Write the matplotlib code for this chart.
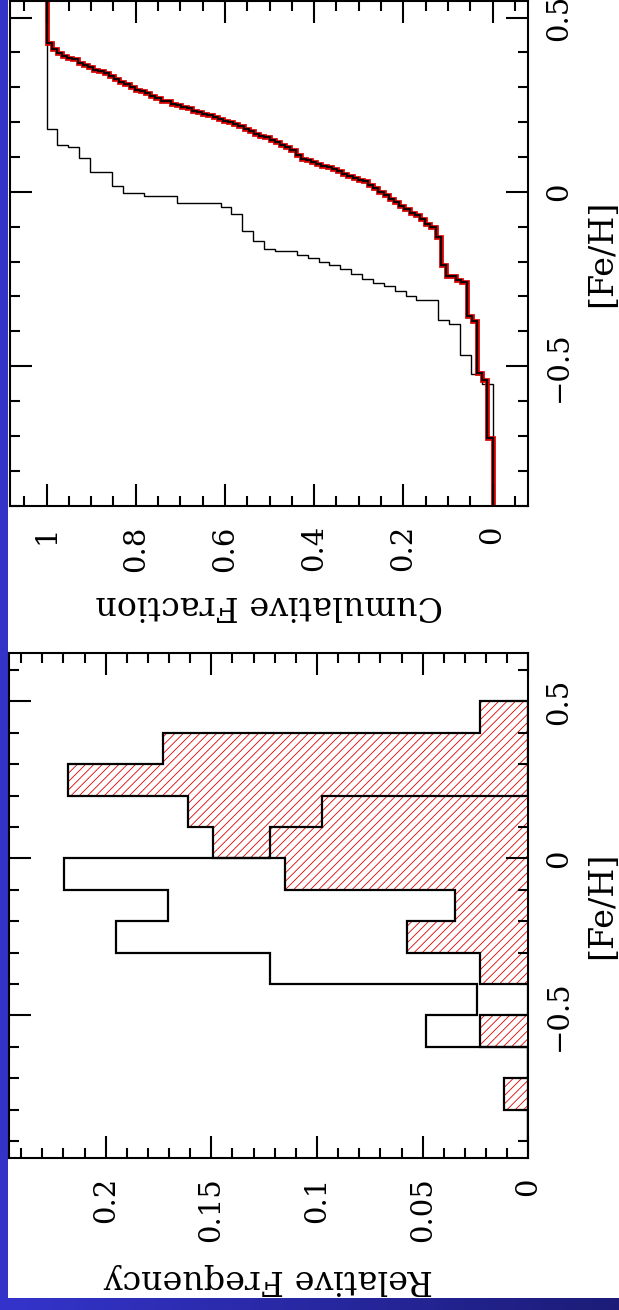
import numpy as np
import matplotlib.pyplot as plt
from matplotlib.colors import LinearSegmentedColormap
from matplotlib.patches import Rectangle
from matplotlib.ticker import MultipleLocator, FuncFormatter

plt.rcParams['font.family'] = ['DejaVu Serif']
plt.rcParams['hatch.linewidth'] = 0.6

# [Fe/H] bins, 0.1 dex wide
bin_edges = [-0.9, -0.8, -0.7, -0.6, -0.5, -0.4, -0.3, -0.2, -0.1, 0.0, 0.1, 0.2, 0.3, 0.4, 0.5]

# relative frequencies per bin (hatched sample and open sample)
freq_hatched = [0.0, 0.0115, 0.0, 0.0229, 0.0, 0.0229, 0.0573, 0.0347,
                0.115, 0.149, 0.161, 0.218, 0.173, 0.0229]
freq_open = [0.0, 0.0, 0.0, 0.0484, 0.0244, 0.1222, 0.1951, 0.1707,
             0.2195, 0.1222, 0.0978, 0.0, 0.0, 0.0]

# individual [Fe/H] values for the cumulative curves
feh_red = [0.427, 0.41,
           0.398, 0.39, 0.385, 0.38, 0.371, 0.365, 0.357, 0.35, 0.347, 0.34,
           0.333, 0.324, 0.314, 0.31, 0.302,
           0.292, 0.29, 0.285, 0.276, 0.27, 0.261, 0.26, 0.252, 0.25, 0.242,
           0.24, 0.233, 0.23, 0.223, 0.22, 0.214, 0.21, 0.204, 0.201,
           0.195, 0.19, 0.18, 0.175, 0.166, 0.16, 0.156, 0.15, 0.142, 0.135,
           0.128, 0.12, 0.105,
           0.094, 0.09, 0.085, 0.08, 0.075, 0.07, 0.065, 0.06, 0.05, 0.045, 0.04,
           0.035, 0.03, 0.02, 0.01, 0.0,
           -0.01, -0.02, -0.03, -0.04, -0.05, -0.06, -0.065, -0.077,
           -0.0916, -0.101, -0.13,
           -0.211, -0.24, -0.24, -0.254, -0.259,
           -0.355, -0.37,
           -0.519, -0.54,
           -0.705]
feh_black = [0.18, 0.135, 0.128, 0.097, 0.056, 0.056, 0.018, -0.004, -0.004,
             -0.013, -0.013, -0.013, -0.032, -0.032, -0.032, -0.032, -0.044,
             -0.063, -0.111, -0.141, -0.163, -0.17, -0.17,
             -0.18, -0.19, -0.2, -0.21, -0.22, -0.235, -0.25, -0.26, -0.27,
             -0.285, -0.3, -0.311, -0.311, -0.368, -0.378,
             -0.469, -0.521, -0.55]

W, H = 619, 1310
BLUE = '#3333c8'

fig = plt.figure(figsize=(W / 100, H / 100), dpi=100, facecolor=BLUE)
fig.patches.append(Rectangle((7.5 / W, 12 / H), 1, 1, transform=fig.transFigure,
                             facecolor='white', edgecolor='none', zorder=-5))

# darker gradient along the bottom edge
ax_bar = fig.add_axes([0, 0, 1, 12 / H], zorder=-4)
ax_bar.imshow(np.linspace(0, 1, 256)[None, :], aspect='auto', extent=(0, 1, 0, 1),
              cmap=LinearSegmentedColormap.from_list('slide', ['#3434cc', '#1c1c78']))
ax_bar.set_axis_off()

fmt = FuncFormatter(lambda v, pos: f'{v:g}'.replace('-', '\u2212'))


def style_axes(ax, f_major, f_minor):
    ax.patch.set_alpha(0)
    ax.xaxis.set_major_locator(MultipleLocator(f_major))
    ax.xaxis.set_minor_locator(MultipleLocator(f_minor))
    ax.yaxis.set_major_locator(MultipleLocator(0.5))
    ax.yaxis.set_minor_locator(MultipleLocator(0.1))
    ax.xaxis.set_major_formatter(fmt)
    ax.yaxis.set_major_formatter(fmt)
    ax.tick_params(which='both', direction='in', top=True, bottom=True,
                   left=True, right=True, labelleft=False, labelright=True,
                   width=1.5, color='black', labelsize=21)
    ax.tick_params(which='major', length=15.5)
    ax.tick_params(which='minor', length=7.5)
    ax.tick_params(axis='x', labelrotation=90, pad=14)
    ax.tick_params(axis='y', labelrotation=90, pad=12)
    for s in ax.spines.values():
        s.set_linewidth(1.5)
    ax.invert_xaxis()
    ax.yaxis.set_label_position('right')
    ax.set_ylabel('[Fe/H]', fontsize=24, rotation=90)
    ax.yaxis.label.set_va('center')
    ax.yaxis.set_label_coords(1.142, 0.5)


# cumulative fraction panel (upper)
ax_cum = fig.add_axes([9.5 / W, 1 - 505.7 / H, (528.3 - 9.5) / W, (505.7 - 0.8) / H])
ax_cum.set_xlim(-0.08, 1.083)
ax_cum.set_ylim(-0.9, 0.548)
for vals, kw in [(feh_black, [dict(color='black', lw=1.0)]),
                 (feh_red, [dict(color='#d40000', lw=3.4), dict(color='black', lw=1.3)])]:
    s = np.sort(vals)
    levels = np.arange(len(s) + 1) / len(s)
    edges = np.concatenate([[-0.9], s, [0.548]])
    for k in kw:
        ax_cum.stairs(levels, edges, orientation='horizontal', baseline=None, **k)
style_axes(ax_cum, 0.2, 0.05)
ax_cum.set_xlabel('Cumulative Fraction', fontsize=24, rotation=180)
ax_cum.xaxis.label.set_va('center')
ax_cum.xaxis.set_label_coords(0.5, -0.197)

# histogram panel (lower)
ax_hist = fig.add_axes([9.3 / W, 1 - 1157.7 / H, (528.3 - 9.3) / W, (1157.7 - 652.7) / H])
ax_hist.set_xlim(0, 0.2456)
ax_hist.set_ylim(-0.953, 0.655)
ax_hist.stairs(freq_hatched, bin_edges, orientation='horizontal', baseline=0,
               fill=True, facecolor='none', edgecolor='#e00000', lw=0, hatch='////')
ax_hist.stairs(freq_hatched, bin_edges, orientation='horizontal', baseline=0,
               color='black', lw=1.6)
ax_hist.stairs(freq_open, bin_edges, orientation='horizontal', baseline=0,
               color='black', lw=1.6)
style_axes(ax_hist, 0.05, 0.01)
ax_hist.set_xlabel('Relative Frequency', fontsize=24, rotation=180)
ax_hist.xaxis.label.set_va('center')
ax_hist.xaxis.set_label_coords(0.5, -0.2407)

for ax in (ax_cum, ax_hist):
    for lbl in ax.get_yticklabels():
        lbl.set_va('center')

fig.savefig('out.png', dpi=100, facecolor=fig.get_facecolor())
